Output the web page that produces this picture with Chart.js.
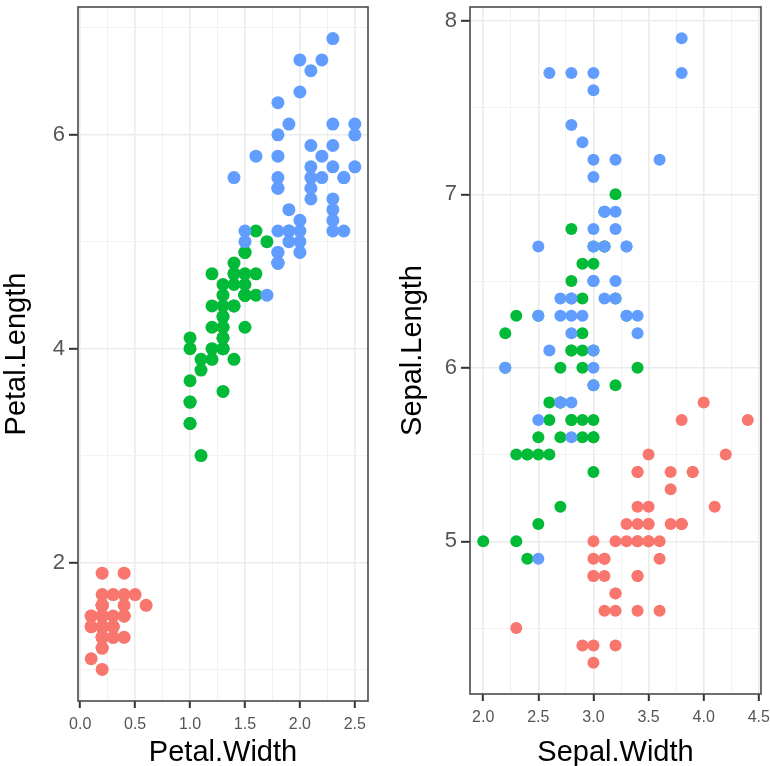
<!DOCTYPE html>
<html>
<head>
<meta charset="utf-8">
<script src="https://cdn.jsdelivr.net/npm/chart.js@4/dist/chart.umd.min.js"></script>
<style>
  body { margin: 0; background: #fff; }
  .panel { position: absolute; top: 0; width: 385px; height: 766px; }
  #left { left: 0; }
  #right { left: 385px; }
</style>
</head>
<body>
<div class="panel" id="left"><canvas id="petal"></canvas></div>
<div class="panel" id="right"><canvas id="sepal"></canvas></div>
<script>
// iris measurements, per species
const setosaSepalLength = [5.1,4.9,4.7,4.6,5.0,5.4,4.6,5.0,4.4,4.9,5.4,4.8,4.8,4.3,5.8,5.7,5.4,5.1,5.7,5.1,5.4,5.1,4.6,5.1,4.8,5.0,5.0,5.2,5.2,4.7,4.8,5.4,5.2,5.5,4.9,5.0,5.5,4.9,4.4,5.1,5.0,4.5,4.4,5.0,5.1,4.8,5.1,4.6,5.3,5.0];
const setosaSepalWidth = [3.5,3.0,3.2,3.1,3.6,3.9,3.4,3.4,2.9,3.1,3.7,3.4,3.0,3.0,4.0,4.4,3.9,3.5,3.8,3.8,3.4,3.7,3.6,3.3,3.4,3.0,3.4,3.5,3.4,3.2,3.1,3.4,4.1,4.2,3.1,3.2,3.5,3.6,3.0,3.4,3.5,2.3,3.2,3.5,3.8,3.0,3.8,3.2,3.7,3.3];
const setosaPetalLength = [1.4,1.4,1.3,1.5,1.4,1.7,1.4,1.5,1.4,1.5,1.5,1.6,1.4,1.1,1.2,1.5,1.3,1.4,1.7,1.5,1.7,1.5,1.0,1.7,1.9,1.6,1.6,1.5,1.4,1.6,1.6,1.5,1.5,1.4,1.5,1.2,1.3,1.4,1.3,1.5,1.3,1.3,1.3,1.6,1.9,1.4,1.6,1.4,1.5,1.4];
const setosaPetalWidth = [0.2,0.2,0.2,0.2,0.2,0.4,0.3,0.2,0.2,0.1,0.2,0.2,0.1,0.1,0.2,0.4,0.4,0.3,0.3,0.3,0.2,0.4,0.2,0.5,0.2,0.2,0.4,0.2,0.2,0.2,0.2,0.4,0.1,0.2,0.2,0.2,0.2,0.1,0.2,0.2,0.3,0.3,0.2,0.6,0.4,0.3,0.2,0.2,0.2,0.2];

const versicolorSepalLength = [7.0,6.4,6.9,5.5,6.5,5.7,6.3,4.9,6.6,5.2,5.0,5.9,6.0,6.1,5.6,6.7,5.6,5.8,6.2,5.6,5.9,6.1,6.3,6.1,6.4,6.6,6.8,6.7,6.0,5.7,5.5,5.5,5.8,6.0,5.4,6.0,6.7,6.3,5.6,5.5,5.5,6.1,5.8,5.0,5.6,5.7,5.7,6.2,5.1,5.7];
const versicolorSepalWidth = [3.2,3.2,3.1,2.3,2.8,2.8,3.3,2.4,2.9,2.7,2.0,3.0,2.2,2.9,2.9,3.1,3.0,2.7,2.2,2.5,3.2,2.8,2.5,2.8,2.9,3.0,2.8,3.0,2.9,2.6,2.4,2.4,2.7,2.7,3.0,3.4,3.1,2.3,3.0,2.5,2.6,3.0,2.6,2.3,2.7,3.0,2.9,2.9,2.5,2.8];
const versicolorPetalLength = [4.7,4.5,4.9,4.0,4.6,4.5,4.7,3.3,4.6,3.9,3.5,4.2,4.0,4.7,3.6,4.4,4.5,4.1,4.5,3.9,4.8,4.0,4.9,4.7,4.3,4.4,4.8,5.0,4.5,3.5,3.8,3.7,3.9,5.1,4.5,4.5,4.7,4.4,4.1,4.0,4.4,4.6,4.0,3.3,4.2,4.2,4.2,4.3,3.0,4.1];
const versicolorPetalWidth = [1.4,1.5,1.5,1.3,1.5,1.3,1.6,1.0,1.3,1.4,1.0,1.5,1.0,1.4,1.3,1.4,1.5,1.0,1.5,1.1,1.8,1.3,1.5,1.2,1.3,1.4,1.4,1.7,1.5,1.0,1.1,1.0,1.2,1.6,1.5,1.6,1.5,1.3,1.3,1.3,1.2,1.4,1.2,1.0,1.3,1.2,1.3,1.3,1.1,1.3];

const virginicaSepalLength = [6.3,5.8,7.1,6.3,6.5,7.6,4.9,7.3,6.7,7.2,6.5,6.4,6.8,5.7,5.8,6.4,6.5,7.7,7.7,6.0,6.9,5.6,7.7,6.3,6.7,7.2,6.2,6.1,6.4,7.2,7.4,7.9,6.4,6.3,6.1,7.7,6.3,6.4,6.0,6.9,6.7,6.9,5.8,6.8,6.7,6.7,6.3,6.5,6.2,5.9];
const virginicaSepalWidth = [3.3,2.7,3.0,2.9,3.0,3.0,2.5,2.9,2.5,3.6,3.2,2.7,3.0,2.5,2.8,3.2,3.0,3.8,2.6,2.2,3.2,2.8,2.8,2.7,3.3,3.2,2.8,3.0,2.8,3.0,2.8,3.8,2.8,2.8,2.6,3.0,3.4,3.1,3.0,3.1,3.1,3.1,2.7,3.2,3.3,3.0,2.5,3.0,3.4,3.0];
const virginicaPetalLength = [6.0,5.1,5.9,5.6,5.8,6.6,4.5,6.3,5.8,6.1,5.1,5.3,5.5,5.0,5.1,5.3,5.5,6.7,6.9,5.0,5.7,4.9,6.7,4.9,5.7,6.0,4.8,4.9,5.6,5.8,6.1,6.4,5.6,5.1,5.6,6.1,5.6,5.5,4.8,5.4,5.6,5.1,5.1,5.9,5.7,5.2,5.0,5.2,5.4,5.1];
const virginicaPetalWidth = [2.5,1.9,2.1,1.8,2.2,2.1,1.7,1.8,1.8,2.5,2.0,1.9,2.1,2.0,2.4,2.3,1.8,2.2,2.3,1.5,2.3,2.0,2.0,1.8,2.1,1.8,1.8,1.8,2.1,1.6,1.9,2.0,2.2,1.5,1.4,2.3,2.4,1.8,1.8,2.1,2.4,2.3,1.9,2.3,2.5,2.3,1.9,2.0,2.3,1.8];

// axis breaks
const petalWidthMajor = [0, 0.5, 1, 1.5, 2, 2.5];
const petalWidthMinor = [0.25, 0.75, 1.25, 1.75, 2.25];
const petalLengthMajor = [2, 4, 6];
const petalLengthMinor = [1, 3, 5, 7];
const sepalWidthMajor = [2, 2.5, 3, 3.5, 4, 4.5];
const sepalWidthMinor = [2.25, 2.75, 3.25, 3.75, 4.25];
const sepalLengthMajor = [5, 6, 7, 8];
const sepalLengthMinor = [4.5, 5.5, 6.5, 7.5];

const colors = { setosa: '#F8766D', versicolor: '#00BA38', virginica: '#619CFF' };

function toPoints(xs, ys) {
	return xs.map((x, i) => ({ x: x, y: ys[i] }));
}

// ggplot-like panel border on top of the points
const panelBorder = {
	id: 'panelBorder',
	afterDatasetsDraw(chart) {
		const a = chart.chartArea;
		const ctx = chart.ctx;
		ctx.save();
		ctx.strokeStyle = '#4a4a4a';
		ctx.lineWidth = 1.6;
		ctx.strokeRect(a.left, a.top, a.right - a.left, a.bottom - a.top);
		ctx.restore();
	}
};

function axis(major, minor, range, title, fmt, opts) {
	const isMajor = v => major.some(m => Math.abs(m - v) < 1e-9);
	return {
		type: 'linear',
		min: range[0],
		max: range[1],
		afterBuildTicks: scale => {
			scale.ticks = major.concat(minor).sort((a, b) => a - b).map(v => ({ value: v }));
		},
		afterFit: scale => {
			// let layout padding alone decide where the panel sits
			scale.paddingTop = 0;
			scale.paddingBottom = 0;
			scale.paddingLeft = 0;
			scale.paddingRight = 0;
			if (opts.width) scale.width = opts.width;
			if (opts.height) scale.height = opts.height;
		},
		ticks: {
			autoSkip: false,
			maxRotation: 0,
			color: '#555555',
			padding: opts.tickPad,
			font: { family: 'Liberation Sans', size: opts.tickFont },
			callback: v => isMajor(v) ? fmt(v) : ''
		},
		grid: {
			color: ctx => ctx.tick && isMajor(ctx.tick.value) ? '#EBEBEB' : '#F2F2F2',
			lineWidth: ctx => ctx.tick && isMajor(ctx.tick.value) ? 1.6 : 1.0,
			tickColor: ctx => ctx.tick && isMajor(ctx.tick.value) ? '#333333' : 'rgba(0,0,0,0)',
			tickLength: opts.tickLen,
			tickWidth: 2
		},
		border: { display: false },
		title: {
			display: true,
			text: title,
			color: '#000000',
			font: { family: 'Liberation Sans', size: 29 },
			padding: opts.titlePad
		}
	};
}

function makeChart(el, xs, ys, xAxis, yAxis, pad, radius) {
	const species = ['setosa', 'versicolor', 'virginica'];
	return new Chart(el, {
		type: 'scatter',
		data: {
			datasets: species.map((s, i) => ({
				label: s,
				data: toPoints(xs[i], ys[i]),
				backgroundColor: colors[s],
				borderWidth: 0,
				pointRadius: radius,
				order: 3 - i
			}))
		},
		options: {
			responsive: true,
			maintainAspectRatio: false,
			animation: false,
			layout: { padding: pad },
			plugins: { legend: { display: false }, tooltip: { enabled: false } },
			scales: { x: xAxis, y: yAxis }
		},
		plugins: [panelBorder]
	});
}

makeChart(
	document.getElementById('petal'),
	[setosaPetalWidth, versicolorPetalWidth, virginicaPetalWidth],
	[setosaPetalLength, versicolorPetalLength, virginicaPetalLength],
	axis(petalWidthMajor, petalWidthMinor, [-0.02, 2.62], 'Petal.Width', v => v.toFixed(1),
		{ height: 65, tickFont: 16, tickPad: 7, tickLen: 7, titlePad: { top: 0, bottom: -4 } }),
	axis(petalLengthMajor, petalLengthMinor, [0.705, 7.195], 'Petal.Length', v => String(v),
		{ width: 78, tickFont: 22, tickPad: 4, tickLen: 9, titlePad: 0 }),
	{ top: 7, right: 17, left: 0, bottom: 0 }, 6.5
);

makeChart(
	document.getElementById('sepal'),
	[setosaSepalWidth, versicolorSepalWidth, virginicaSepalWidth],
	[setosaSepalLength, versicolorSepalLength, virginicaSepalLength],
	axis(sepalWidthMajor, sepalWidthMinor, [1.88, 4.52], 'Sepal.Width', v => v.toFixed(1),
		{ height: 72, tickFont: 16, tickPad: 7, tickLen: 7, titlePad: { top: 0, bottom: -4 } }),
	axis(sepalLengthMajor, sepalLengthMinor, [4.12, 8.08], 'Sepal.Length', v => String(v),
		{ width: 74, tickFont: 22, tickPad: 4, tickLen: 9, titlePad: 0 }),
	{ top: 7, right: 9, left: 11, bottom: 0 }, 6
);
</script>
</body>
</html>
